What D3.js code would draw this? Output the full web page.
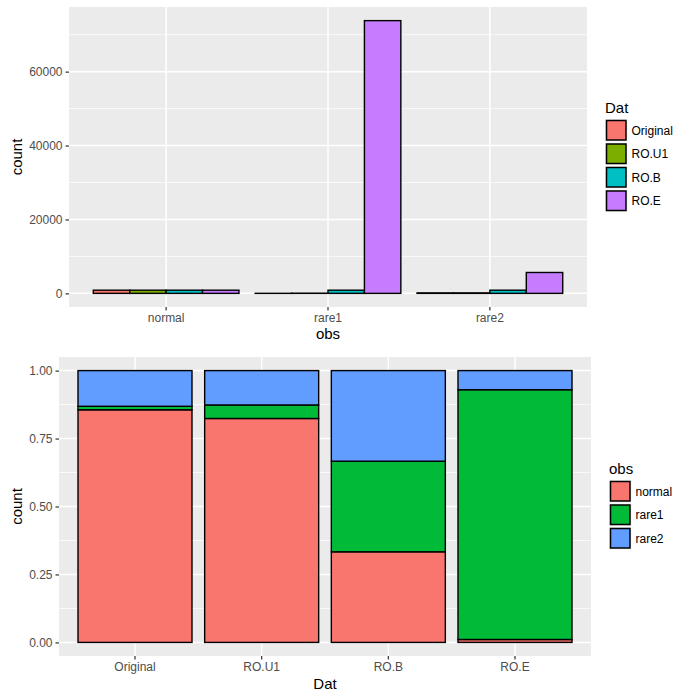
<!DOCTYPE html>
<html>
<head>
<meta charset="utf-8">
<script src="https://cdn.jsdelivr.net/npm/d3@7"></script>
<style>
  body { margin: 0; background: #fff; }
  text { font-family: "Liberation Sans", Arial, sans-serif; }
</style>
</head>
<body>
<div id="chart"></div>
<script>
// Data
const obsLevels = ["normal", "rare1", "rare2"];
const datLevels = ["Original", "RO.U1", "RO.B", "RO.E"];
// counts per Dat, in obs order (normal, rare1, rare2)
const countOriginal = [860, 13, 132];
const countROU1 = [860, 52, 132];
const countROB = [860, 860, 860];
const countROE = [860, 73800, 5650];
const countTicks = [0, 20000, 40000, 60000];
const propTicks = [0, 0.25, 0.5, 0.75, 1];

const datColors = ["#F8766D", "#7CAE00", "#00BFC4", "#C77CFF"];
const obsColors = ["#F8766D", "#00BA38", "#619CFF"];

const counts = [countOriginal, countROU1, countROB, countROE];

const width = 700, height = 700;
const svg = d3.select("#chart").append("svg")
  .attr("width", width).attr("height", height);

const gridMajor = 1.5, gridMinor = 0.75;

function panelBg(g, x0, x1, y0, y1) {
  g.append("rect").attr("x", x0).attr("y", y0)
    .attr("width", x1 - x0).attr("height", y1 - y0).attr("fill", "#EBEBEB");
}

// y = baseline of the legend title
function drawLegend(g, x, y, title, labels, colors) {
  g.append("text").attr("x", x).attr("y", y)
    .style("font-size", "15px").attr("fill", "#000").text(title);
  const key = 23.5;
  labels.forEach((l, i) => {
    const ky = y + 6.5 + i * key;
    g.append("rect").attr("x", x).attr("y", ky).attr("width", key - 1).attr("height", key - 1)
      .attr("fill", "#F2F2F2");
    g.append("rect").attr("x", x + 1.5).attr("y", ky + 1.5).attr("width", key - 4).attr("height", key - 4)
      .attr("fill", colors[i]).attr("stroke", "#000").attr("stroke-width", 1.5);
    g.append("text").attr("x", x + key + 3).attr("y", ky + key / 2 + 4)
      .style("font-size", "12px").attr("fill", "#000").text(l);
  });
}

// ---------- Top: grouped counts ----------
{
  const m = { left: 69, right: 587, top: 7, bottom: 307 };
  const maxV = d3.max(counts, d => d3.max(d));
  const y = d3.scaleLinear().domain([-0.05 * maxV, 1.05 * maxV]).range([m.bottom, m.top]);
  const x = d3.scaleBand().domain(obsLevels).range([m.left, m.right])
    .paddingInner(0.1).paddingOuter(0.15);
  const xd = d3.scaleBand().domain(datLevels).range([0, x.bandwidth()]);

  const g = svg.append("g");
  panelBg(g, m.left, m.right, m.top, m.bottom);

  // minor grid
  const minor = d3.range(10000, 1.05 * maxV, 20000);
  g.selectAll("line.minor").data(minor).join("line")
    .attr("x1", m.left).attr("x2", m.right)
    .attr("y1", d => y(d)).attr("y2", d => y(d))
    .attr("stroke", "#fff").attr("stroke-width", gridMinor);
  g.selectAll("line.majY").data(countTicks).join("line")
    .attr("x1", m.left).attr("x2", m.right)
    .attr("y1", d => y(d)).attr("y2", d => y(d))
    .attr("stroke", "#fff").attr("stroke-width", gridMajor);
  g.selectAll("line.majX").data(obsLevels).join("line")
    .attr("x1", d => x(d) + x.bandwidth() / 2).attr("x2", d => x(d) + x.bandwidth() / 2)
    .attr("y1", m.top).attr("y2", m.bottom)
    .attr("stroke", "#fff").attr("stroke-width", gridMajor);

  // bars
  const rows = [];
  datLevels.forEach((dt, i) => obsLevels.forEach((o, j) => rows.push({ dat: dt, obs: o, v: counts[i][j], c: datColors[i] })));
  g.selectAll("rect.bar").data(rows).join("rect")
    .attr("x", d => x(d.obs) + xd(d.dat))
    .attr("y", d => y(d.v))
    .attr("width", xd.bandwidth())
    .attr("height", d => y(0) - y(d.v))
    .attr("fill", d => d.c).attr("stroke", "#000").attr("stroke-width", 1.4);

  // axes
  const ay = g.append("g").attr("transform", `translate(${m.left},0)`)
    .call(d3.axisLeft(y).tickValues(countTicks).tickSize(3.5).tickPadding(3).tickFormat(d3.format("d")));
  const ax = g.append("g").attr("transform", `translate(0,${m.bottom})`)
    .call(d3.axisBottom(x).tickSize(3.5).tickPadding(3));
  [ay, ax].forEach(a => {
    a.select(".domain").remove();
    a.selectAll(".tick line").attr("stroke", "#333").attr("stroke-width", 1.2);
    a.selectAll(".tick text").attr("fill", "#4D4D4D").style("font-size", "12px")
      .style("font-family", "Liberation Sans, Arial, sans-serif");
  });

  g.append("text").attr("x", (m.left + m.right) / 2).attr("y", 339)
    .attr("text-anchor", "middle").style("font-size", "15px").text("obs");
  g.append("text").attr("transform", `translate(22,${(m.top + m.bottom) / 2}) rotate(-90)`)
    .attr("text-anchor", "middle").style("font-size", "15px").text("count");

  drawLegend(g, 605, 112.5, "Dat", datLevels, datColors);
}

// ---------- Bottom: stacked proportions ----------
{
  const m = { left: 59, right: 591, top: 357, bottom: 656 };
  const y = d3.scaleLinear().domain([-0.05, 1.05]).range([m.bottom, m.top]);
  const x = d3.scaleBand().domain(datLevels).range([m.left, m.right])
    .paddingInner(0.1).paddingOuter(0.15);

  const g = svg.append("g");
  panelBg(g, m.left, m.right, m.top, m.bottom);

  const minor = [0.125, 0.375, 0.625, 0.875];
  g.selectAll("line.minor").data(minor).join("line")
    .attr("x1", m.left).attr("x2", m.right)
    .attr("y1", d => y(d)).attr("y2", d => y(d))
    .attr("stroke", "#fff").attr("stroke-width", gridMinor);
  g.selectAll("line.majY").data(propTicks).join("line")
    .attr("x1", m.left).attr("x2", m.right)
    .attr("y1", d => y(d)).attr("y2", d => y(d))
    .attr("stroke", "#fff").attr("stroke-width", gridMajor);
  g.selectAll("line.majX").data(datLevels).join("line")
    .attr("x1", d => x(d) + x.bandwidth() / 2).attr("x2", d => x(d) + x.bandwidth() / 2)
    .attr("y1", m.top).attr("y2", m.bottom)
    .attr("stroke", "#fff").attr("stroke-width", gridMajor);

  // stacked fill rows
  const table = datLevels.map((dt, i) => {
    const tot = d3.sum(counts[i]);
    const r = { dat: dt };
    obsLevels.forEach((o, j) => r[o] = counts[i][j] / tot);
    return r;
  });
  const series = d3.stack().keys(obsLevels)(table);
  series.forEach((s, si) => {
    g.selectAll(null).data(s).join("rect")
      .attr("x", d => x(d.data.dat))
      .attr("y", d => y(d[1]))
      .attr("width", x.bandwidth())
      .attr("height", d => y(d[0]) - y(d[1]))
      .attr("fill", obsColors[si]).attr("stroke", "#000").attr("stroke-width", 1.4);
  });

  const ay = g.append("g").attr("transform", `translate(${m.left},0)`)
    .call(d3.axisLeft(y).tickValues(propTicks).tickSize(3.5).tickPadding(3).tickFormat(d3.format(".2f")));
  const ax = g.append("g").attr("transform", `translate(0,${m.bottom})`)
    .call(d3.axisBottom(x).tickSize(3.5).tickPadding(3));
  [ay, ax].forEach(a => {
    a.select(".domain").remove();
    a.selectAll(".tick line").attr("stroke", "#333").attr("stroke-width", 1.2);
    a.selectAll(".tick text").attr("fill", "#4D4D4D").style("font-size", "12px")
      .style("font-family", "Liberation Sans, Arial, sans-serif");
  });

  g.append("text").attr("x", (m.left + m.right) / 2).attr("y", 689)
    .attr("text-anchor", "middle").style("font-size", "15px").text("Dat");
  g.append("text").attr("transform", `translate(22,${(m.top + m.bottom) / 2}) rotate(-90)`)
    .attr("text-anchor", "middle").style("font-size", "15px").text("count");

  drawLegend(g, 609, 473.5, "obs", obsLevels, obsColors);
}
</script>
</body>
</html>
